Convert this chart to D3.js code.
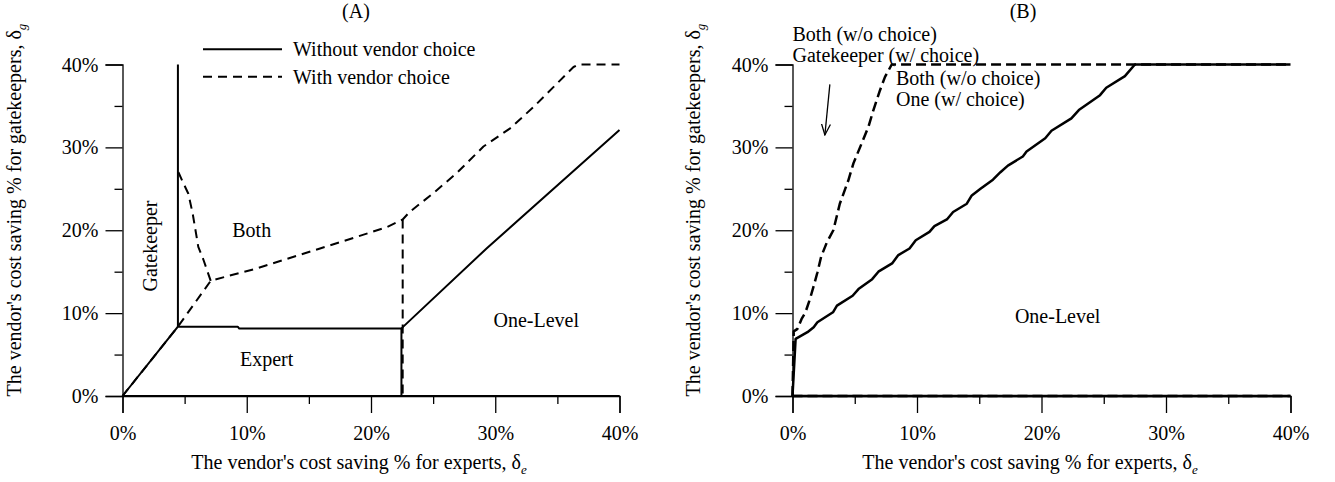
<!DOCTYPE html>
<html>
<head>
<meta charset="utf-8">
<script src="https://cdn.jsdelivr.net/npm/d3@7"></script>
<style>
  body { margin: 0; background: #fff; }
  svg text { font-family: "Liberation Serif", "Times New Roman", serif; fill: #000; }
</style>
</head>
<body>
<svg id="chart" width="1335" height="482"></svg>
<script>
// ---- axis ticks (percent) ----
const majorTicks = [0, 10, 20, 30, 40];
const minorTicks = [5, 15, 25, 35];

// ---- Panel A: without vendor choice (solid boundaries) ----
const aSolidLeftX  = [0, 4.46, 9.27, 9.4, 22.45, 22.45];
const aSolidLeftY  = [0, 8.37, 8.37, 8.13, 8.13, 0];
const aSolidGateX  = [4.46, 4.46];
const aSolidGateY  = [8.37, 40];
const aSolidRightX = [22.45, 22.6, 29.3, 40];
const aSolidRightY = [8.13, 8.37, 17.8, 32.1];

// ---- Panel A: with vendor choice (dashed boundaries) ----
const aDashMainX = [0, 4.46, 7.1, 8.55, 10.6, 13.15, 15.9, 18.85, 21.3, 22.55, 23.1, 25.0, 26.9, 29.05, 31.2, 33.1, 34.7, 36.3, 36.7, 40];
const aDashMainY = [0, 8.37, 13.9, 14.5, 15.3, 16.5, 17.8, 19.2, 20.4, 21.3, 22.2, 24.45, 26.9, 30.1, 32.3, 34.9, 37.3, 39.7, 40, 40];
const aDashGateX = [7.1, 6.8, 6.5, 6.1, 5.65, 5.3, 4.8, 4.5];
const aDashGateY = [13.9, 15.2, 16.5, 18.0, 22.0, 24.4, 26.0, 27.0];
const aDashSplitX = [22.55, 22.55];
const aDashSplitY = [21.3, 0];

// ---- Panel B: without vendor choice (solid) ----
const bSolidX = [0, 0.25, 1.2, 1.7, 2.0, 3.25, 3.57, 4.83, 5.3, 6.4, 6.9, 8.0, 8.5, 9.4, 9.9, 11.0, 11.4, 12.4, 12.9, 14.0, 14.4, 15.1, 16.1, 16.7, 17.3, 18.5, 18.8, 20.3, 20.8, 22.4, 23.0, 24.7, 25.2, 26.7, 27.5, 40];
const bSolidY = [0, 6.9, 7.7, 8.3, 8.9, 10.1, 10.9, 12.1, 12.9, 14.1, 15.0, 16.0, 17.0, 17.8, 18.8, 19.8, 20.5, 21.3, 22.2, 23.2, 24.2, 25.0, 26.1, 27.0, 27.8, 28.9, 29.5, 31.1, 32.0, 33.5, 34.5, 36.3, 37.2, 38.6, 40, 40];

// ---- Panel B: with vendor choice (dashed) ----
const bDashX = [0, 0.1, 0.4, 0.73, 1.04, 1.36, 1.67, 2.0, 2.3, 2.75, 3.28, 3.8, 4.48, 4.9, 5.56, 6.1, 6.5, 7.03, 7.43, 7.97, 40];
const bDashY = [0, 7.8, 8.1, 9.3, 10.1, 11.5, 13.1, 14.9, 16.8, 18.5, 20.0, 23.2, 26.0, 28.1, 30.5, 32.5, 34.5, 36.9, 38.5, 40, 40];

// both series also run along the horizontal axis
const baseX = [0, 40];
const baseY = [0, 0];

// ---- text ----
const panelTitles = ["(A)", "(B)"];
const legendLabels = ["Without vendor choice", "With vendor choice"];
const regionLabelsA = ["Gatekeeper", "Both", "Expert", "One-Level"];
const regionLabelsB = ["One-Level"];
const noteLinesB = ["Both (w/o choice)", "Gatekeeper (w/ choice)", "Both (w/o choice)", "One (w/ choice)"];
const xTitle = "The vendor's cost saving % for experts, δ";
const yTitle = "The vendor's cost saving % for gatekeepers, δ";

const svg = d3.select("#chart");
const FS = 20;

svg.append("defs").append("marker")
  .attr("id", "arrowHead")
  .attr("viewBox", "0 0 12 10")
  .attr("refX", 11).attr("refY", 5)
  .attr("markerWidth", 12).attr("markerHeight", 10)
  .attr("markerUnits", "userSpaceOnUse")
  .attr("orient", "auto")
  .append("path")
  .attr("d", "M0,0.5 L11,5 L0,9.5")
  .attr("fill", "none").attr("stroke", "#000").attr("stroke-width", 1.3);

function drawPanel(p) {
  const x = d3.scaleLinear().domain([0, 40]).range(p.xRange);
  const y = d3.scaleLinear().domain([0, 40]).range([396, 64.5]);
  const g = svg.append("g");

  // x axis
  const gx = g.append("g").attr("transform", `translate(0,${y(0)})`)
    .call(d3.axisBottom(x).tickValues(majorTicks).tickSize(17).tickFormat(d => d + "%"));
  gx.append("g").call(d3.axisBottom(x).tickValues(minorTicks).tickSize(8).tickFormat(""))
    .select(".domain").remove();
  // y axis
  const gy = g.append("g").attr("transform", `translate(${x(0)},0)`)
    .call(d3.axisLeft(y).tickValues(majorTicks).tickSize(17).tickPadding(7).tickFormat(d => d + "%"));
  gy.append("g").call(d3.axisLeft(y).tickValues(minorTicks).tickSize(8).tickFormat(""))
    .select(".domain").remove();

  [gx, gy].forEach(a => {
    a.attr("font-family", null).attr("font-size", null);
    a.selectAll("path.domain").attr("stroke", "#000").attr("stroke-width", 1.3);
    a.selectAll(".tick line").attr("stroke", "#000").attr("stroke-width", 1.3);
    a.selectAll("text").style("font-size", FS + "px");
  });
  gx.selectAll(".tick text").attr("y", 44).attr("dy", 0);
  gy.selectAll(".tick text").attr("dy", "0.33em");

  const line = d3.line().x(d => x(d[0])).y(d => y(d[1]));
  const drawSeries = (xs, ys, dashed, w) => {
    g.append("path")
      .attr("d", line(d3.zip(xs, ys)))
      .attr("fill", "none").attr("stroke", "#000")
      .attr("stroke-width", w)
      .attr("stroke-linejoin", "round")
      .attr("stroke-dasharray", dashed ? p.dash : null);
  };
  p.dashed.forEach(s => drawSeries(s[0], s[1], true, p.width));
  p.solid.forEach(s => drawSeries(s[0], s[1], false, p.width));

  // panel title
  g.append("text").attr("x", p.titleX).attr("y", 18)
    .attr("text-anchor", "middle").style("font-size", FS + "px").text(p.title);

  // x axis title
  const xt = g.append("text").attr("x", p.xTitleX).attr("y", 469)
    .attr("text-anchor", "middle").style("font-size", FS + "px");
  xt.append("tspan").text(xTitle);
  xt.append("tspan").attr("dy", 5).style("font-size", "13px").style("font-style", "italic").text("e");

  // y axis title
  const yt = g.append("text")
    .attr("transform", `translate(${p.yTitleX},210) rotate(-90)`)
    .attr("text-anchor", "middle").style("font-size", FS + "px");
  yt.append("tspan").text(yTitle);
  yt.append("tspan").attr("dy", 5).style("font-size", "13px").style("font-style", "italic").text("g");

  return { g, x, y };
}

// ---------- Panel A ----------
const A = drawPanel({
  xRange: [122.5, 619.5],
  title: panelTitles[0], titleX: 356,
  xTitleX: 359, yTitleX: 21,
  dash: "9,6", width: 2,
  dashed: [[aDashMainX, aDashMainY], [aDashGateX, aDashGateY], [aDashSplitX, aDashSplitY], [baseX, baseY]],
  solid: [[aSolidLeftX, aSolidLeftY], [aSolidGateX, aSolidGateY], [aSolidRightX, aSolidRightY], [baseX, baseY]]
});

// region labels, panel A
A.g.append("text")
  .attr("transform", `translate(${A.x(2.2)},${A.y(18.1)}) rotate(-90)`)
  .attr("text-anchor", "middle").attr("dy", "0.34em").style("font-size", FS + "px")
  .text(regionLabelsA[0]);
[[regionLabelsA[1], 10.4, 20.0], [regionLabelsA[2], 11.6, 4.5], [regionLabelsA[3], 33.3, 9.2]].forEach(([t, lx, ly]) => {
  A.g.append("text").attr("x", A.x(lx)).attr("y", A.y(ly))
    .attr("text-anchor", "middle").attr("dy", "0.34em").style("font-size", FS + "px").text(t);
});

// legend, panel A
const legend = A.g.append("g");
legendLabels.forEach((t, i) => {
  const ly = 49.3 + i * 27.4;
  legend.append("line").attr("x1", 203).attr("x2", 282).attr("y1", ly).attr("y2", ly)
    .attr("stroke", "#000").attr("stroke-width", 2)
    .attr("stroke-dasharray", i === 1 ? "9,6" : null);
  legend.append("text").attr("x", 293).attr("y", ly).attr("dy", "0.34em")
    .style("font-size", FS + "px").text(t);
});

// ---------- Panel B ----------
const B = drawPanel({
  xRange: [792.5, 1290.5],
  title: panelTitles[1], titleX: 1023,
  xTitleX: 1030, yTitleX: 700,
  dash: "10,5", width: 2.5,
  dashed: [[bDashX, bDashY], [baseX, baseY]],
  solid: [[bSolidX, bSolidY], [baseX, baseY]]
});

B.g.append("text").attr("x", B.x(21.3)).attr("y", B.y(9.6))
  .attr("text-anchor", "middle").attr("dy", "0.34em").style("font-size", FS + "px")
  .text(regionLabelsB[0]);

// annotations naming the boundaries
[[noteLinesB[0], 0.0, 43.6], [noteLinesB[1], 0.0, 41.0], [noteLinesB[2], 8.31, 38.2], [noteLinesB[3], 8.31, 35.7]]
  .forEach(([t, lx, ly]) => {
    B.g.append("text").attr("x", B.x(lx)).attr("y", B.y(ly)).attr("dy", "0.3em")
      .style("font-size", FS + "px").text(t);
  });

// arrow pointing at the dashed boundary region
B.g.append("line")
  .attr("x1", B.x(3.0)).attr("y1", B.y(37.6))
  .attr("x2", B.x(2.6)).attr("y2", B.y(31.5))
  .attr("stroke", "#000").attr("stroke-width", 1.3)
  .attr("marker-end", "url(#arrowHead)");
</script>
</body>
</html>
